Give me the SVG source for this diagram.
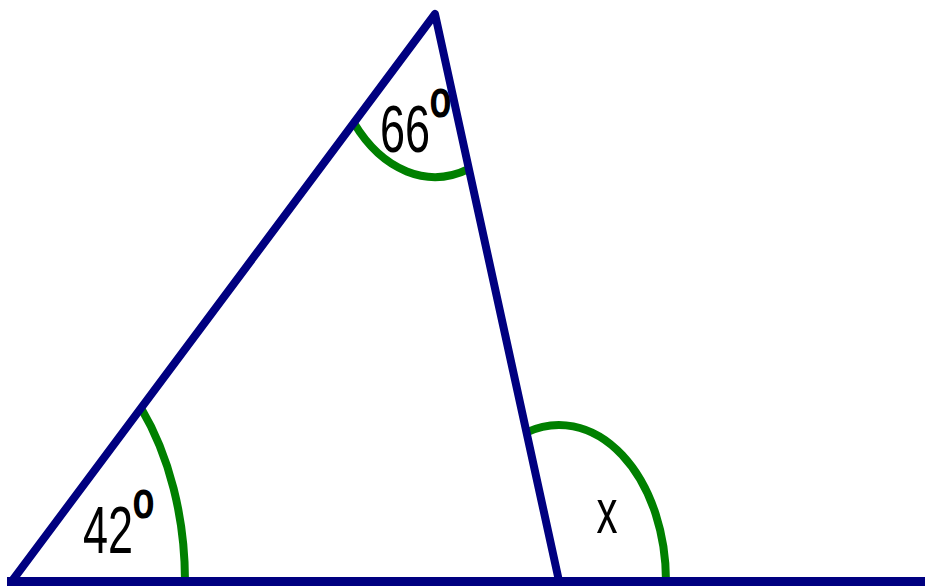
<svg xmlns="http://www.w3.org/2000/svg" width="925" height="586" viewBox="0 0 925 586">
<style>
.arc{fill:none;stroke:#008000;stroke-width:8}
.side{fill:none;stroke:#000080;stroke-width:8;stroke-linejoin:round}
.lbl{font-family:"Liberation Sans",Arial,sans-serif;fill:#000}
.num{font-size:45px}
.deg{font-size:36px;font-weight:bold}
</style>
<rect width="925" height="586" fill="#fff"/>
<g id="angle-arcs">
<path id="arc-42" class="arc" d="M141,408 A173,260 0 0 1 185,581"/>
<path id="arc-66" class="arc" d="M353.8,122.8 A109,163 0 0 0 468.9,168.9"/>
<path id="arc-x" class="arc" d="M526.5,432.3 A107,156 0 0 1 666,581"/>
</g>
<g id="connectors">
<polyline class="side" points="12,581 435,14 559,581"/>
<rect id="base-line" x="7" y="577" width="918" height="9" fill="#000080"/>
</g>
<g id="labels">
<text class="lbl num" transform="translate(83,553) scale(1,1.48)">42</text>
<text class="lbl deg" transform="translate(132.5,517.5) scale(1,1.48)">o</text>
<text class="lbl num" transform="translate(380,151.5) scale(1,1.48)">66</text>
<text class="lbl deg" transform="translate(429.5,117) scale(1,1.48)">o</text>
<text class="lbl" font-size="42" transform="translate(596.5,533) scale(1,1.48)">x</text>
</g>
</svg>
